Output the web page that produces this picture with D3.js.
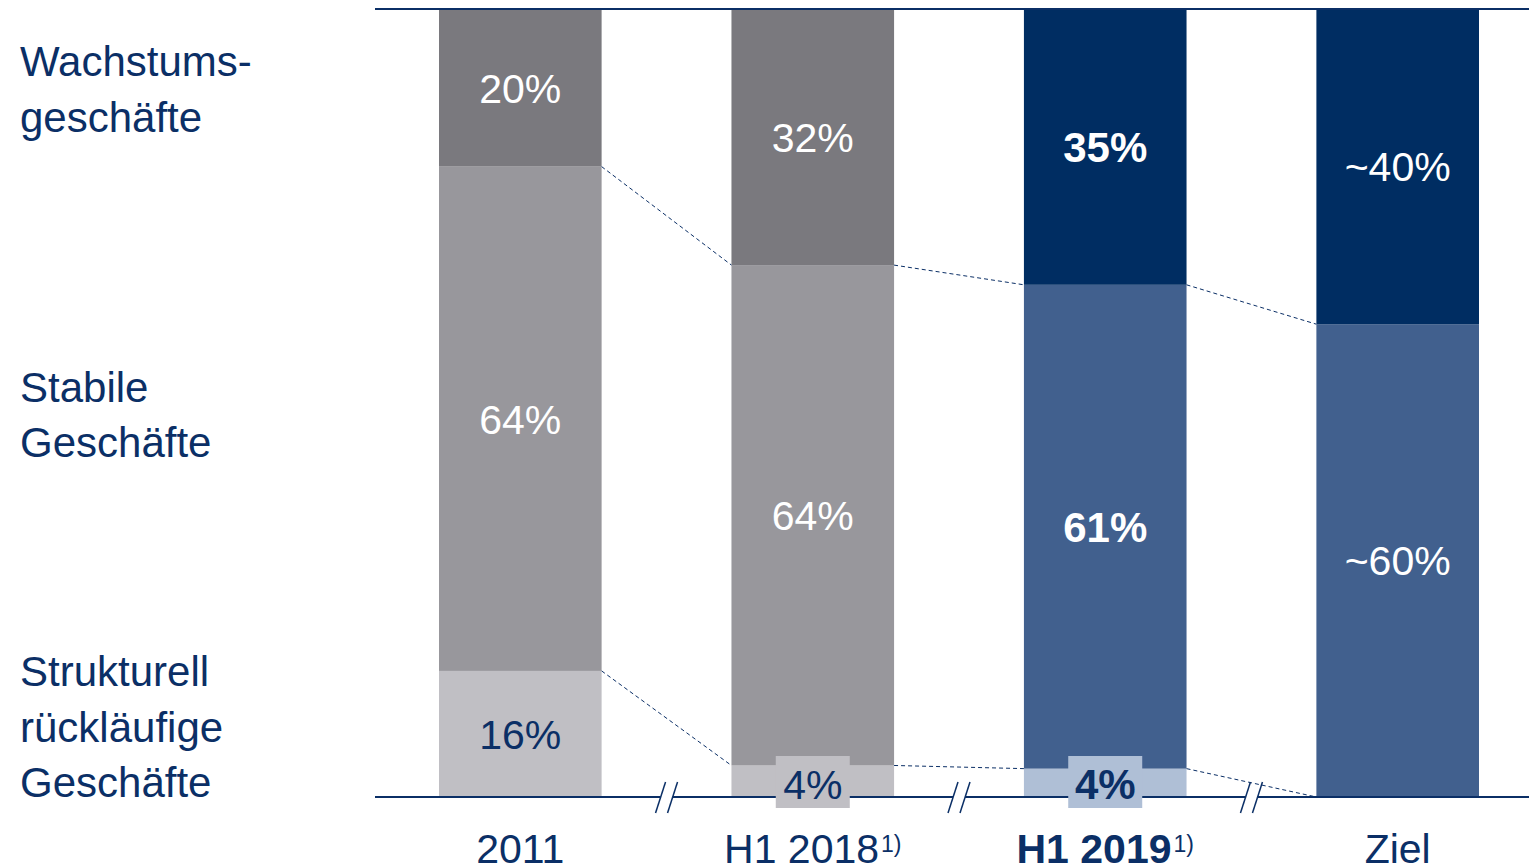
<!DOCTYPE html>
<html>
<head>
<meta charset="utf-8">
<script src="https://cdn.jsdelivr.net/npm/d3@7"></script>
<style>
  html, body { margin: 0; padding: 0; background: #fff; }
  svg { display: block; font-family: Arial, "Liberation Sans", sans-serif; }
</style>
</head>
<body>
<script>
// categories and shares (bottom -> top)
const categories = ["2011", "H1 2018", "H1 2019", "Ziel"];
const superscripts = ["", "1)", "1)", ""];
const boldCategory = [false, false, true, false];
const ruecklaeufig = [16, 4, 3.6, 0];
const stabil = [64, 63.5, 61.4, 60];
const wachstum = [20, 32.5, 35, 40];
const labelsRueck = ["16%", "4%", "4%", ""];
const labelsStabil = ["64%", "64%", "61%", "~60%"];
const labelsWachstum = ["20%", "32%", "35%", "~40%"];
const rowLabels = [
  ["Wachstums-", "geschäfte"],
  ["Stabile", "Geschäfte"],
  ["Strukturell", "rückläufige", "Geschäfte"]
];

const W = 1529, H = 868;
const navy = "#0b2f66";
const palettes = [
  ["#c0bfc4", "#98979c", "#7a797e"],
  ["#c0bfc4", "#98979c", "#7a797e"],
  ["#afbfd6", "#41608e", "#002d62"],
  ["#afbfd6", "#41608e", "#002d62"]
];
const textColors = [navy, "#fff", "#fff"];

const svg = d3.select("body").append("svg")
  .attr("width", W).attr("height", H);

const x = d3.scaleBand()
  .domain(categories)
  .range([439, 1479])
  .paddingInner(0.444)
  .paddingOuter(0);

const y = d3.scaleLinear().domain([0, 100]).range([797, 9]);

// stacked data
const data = categories.map((c, i) => {
  const vals = [ruecklaeufig[i], stabil[i], wachstum[i]];
  const labs = [labelsRueck[i], labelsStabil[i], labelsWachstum[i]];
  let cum = 0;
  const segs = vals.map((v, k) => {
    const s = { cat: c, i, k, v, y0: cum, y1: cum + v, label: labs[k] };
    cum += v;
    return s;
  });
  return { cat: c, i, segs };
});

// segments
const bars = svg.append("g");
data.forEach(d => {
  bars.selectAll(null)
    .data(d.segs.filter(s => s.v > 0))
    .join("rect")
    .attr("x", s => x(s.cat))
    .attr("width", x.bandwidth())
    .attr("y", s => y(s.y1))
    .attr("height", s => y(s.y0) - y(s.y1))
    .attr("fill", s => palettes[s.i][s.k]);
});

// dashed connectors between segment boundaries
const conn = svg.append("g")
  .attr("stroke", navy)
  .attr("stroke-width", 1)
  .attr("stroke-dasharray", "4,3")
  .attr("fill", "none");
for (let i = 0; i < data.length - 1; i++) {
  [0, 1].forEach(k => {
    conn.append("line")
      .attr("x1", x(categories[i]) + x.bandwidth())
      .attr("y1", y(data[i].segs[k].y1))
      .attr("x2", x(categories[i + 1]))
      .attr("y2", y(data[i + 1].segs[k].y1));
  });
}

// top and base lines
svg.append("line")
  .attr("x1", 375).attr("x2", W)
  .attr("y1", y(100)).attr("y2", y(100))
  .attr("stroke", navy).attr("stroke-width", 2);
svg.append("line")
  .attr("x1", 375).attr("x2", W)
  .attr("y1", y(0)).attr("y2", y(0))
  .attr("stroke", navy).attr("stroke-width", 2);

// axis breaks between bars
for (let i = 0; i < categories.length - 1; i++) {
  const cx = (x(categories[i]) + x.bandwidth() + x(categories[i + 1])) / 2;
  const b = svg.append("g");
  b.append("rect")
    .attr("x", cx - 6).attr("y", y(0) - 3)
    .attr("width", 12).attr("height", 6)
    .attr("fill", "#fff");
  [-6, 6].forEach(o => {
    b.append("line")
      .attr("x1", cx + o + 5).attr("y1", y(0) - 15)
      .attr("x2", cx + o - 5).attr("y2", y(0) + 16)
      .attr("stroke", navy).attr("stroke-width", 1.5);
  });
}

// value labels
data.forEach(d => {
  d.segs.forEach(s => {
    if (!s.label) return;
    const cx = x(s.cat) + x.bandwidth() / 2;
    const cy = (y(s.y0) + y(s.y1)) / 2;
    const small = s.k === 0 && s.v < 8;
    if (small) {
      svg.append("rect")
        .attr("x", cx - 37).attr("y", y(0) - 41)
        .attr("width", 74).attr("height", 52)
        .attr("fill", palettes[s.i][0]);
    }
    svg.append("text")
      .attr("x", cx)
      .attr("y", small ? y(0) + 2 : cy)
      .attr("dy", small ? 0 : "0.36em")
      .attr("text-anchor", "middle")
      .attr("font-size", boldCategory[s.i] ? 42 : 41)
      .attr("font-weight", boldCategory[s.i] ? "bold" : "normal")
      .attr("fill", textColors[s.k])
      .text(s.label);
  });
});

// category labels
categories.forEach((c, i) => {
  const t = svg.append("text")
    .attr("x", x(c) + x.bandwidth() / 2)
    .attr("y", 863)
    .attr("text-anchor", "middle")
    .attr("font-size", 41)
    .attr("font-weight", boldCategory[i] ? "bold" : "normal")
    .attr("fill", navy);
  t.append("tspan").text(c);
  if (superscripts[i]) {
    t.append("tspan")
      .attr("font-size", 23)
      .attr("font-weight", "normal")
      .attr("dx", 2)
      .attr("dy", -11)
      .text(superscripts[i]);
  }
});

// row labels on the left
const rowY = [76, 401.5, 686];
rowLabels.forEach((lines, r) => {
  const t = svg.append("text")
    .attr("x", 20).attr("y", rowY[r])
    .attr("font-size", 42)
    .attr("fill", navy);
  lines.forEach((l, j) => {
    t.append("tspan").attr("x", 20).attr("dy", j === 0 ? 0 : 55.5).text(l);
  });
});
</script>
</body>
</html>
